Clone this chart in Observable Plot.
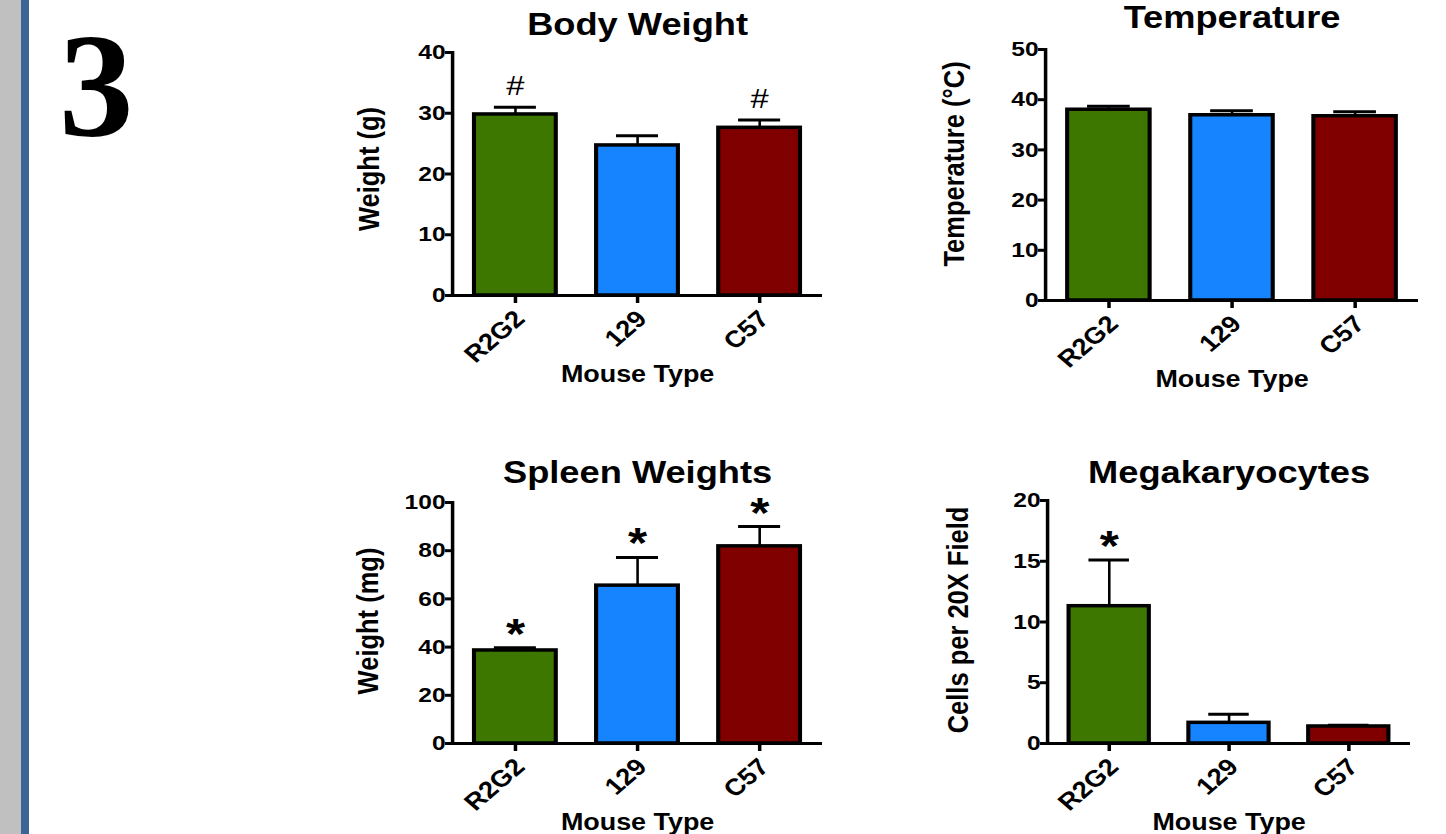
<!DOCTYPE html>
<html>
<head>
<meta charset="utf-8">
<script src="https://cdn.jsdelivr.net/npm/d3@7"></script>
<script src="https://cdn.jsdelivr.net/npm/@observablehq/plot@0.6"></script>
<style>
  html, body { margin: 0; padding: 0; background: #ffffff; }
  body { width: 1446px; height: 834px; position: relative; overflow: hidden; }
  #strip-gray { position: absolute; left: 0; top: 0; width: 21px; height: 834px; background: #c0c0c0; }
  #strip-blue { position: absolute; left: 21px; top: 0; width: 8px; height: 834px; background: #3a6596; }
  #fig-num { position: absolute; left: 59px; top: 0px; font-family: "Liberation Serif", "Times New Roman", serif; font-weight: bold; font-size: 149px; line-height: normal; color: #000; }
  .panel { position: absolute; }
  .panel svg { transform-origin: 0 0; display: block; }
</style>
</head>
<body>
<div id="strip-gray"></div>
<div id="strip-blue"></div>
<div id="fig-num">3</div>
<div class="panel" id="p1"></div>
<div class="panel" id="p2"></div>
<div class="panel" id="p3"></div>
<div class="panel" id="p4"></div>
<script>
// ---- data ----
const mouseTypes = ["R2G2", "129", "C57"];
const barColors = ["#3d7700", "#1784ff", "#800000"];
const xAxisLabel = "Mouse Type";

const bodyWeight = [29.8, 24.7, 27.6];
const bodyWeightErrTop = [31.0, 26.3, 28.9];
const bodyWeightMarks = ["#", "", "#"];
const bodyWeightTicks = [0, 10, 20, 30, 40];

const temperature = [38.0, 36.9, 36.7];
const temperatureErrTop = [38.7, 37.8, 37.6];
const temperatureMarks = ["", "", ""];
const temperatureTicks = [0, 10, 20, 30, 40, 50];

const spleenWeight = [38.6, 65.5, 81.8];
const spleenWeightErrTop = [39.7, 77.2, 90.0];
const spleenWeightMarks = ["*", "*", "*"];
const spleenWeightTicks = [0, 20, 40, 60, 80, 100];

const megakaryocytes = [11.3, 1.7, 1.4];
const megakaryocytesErrTop = [15.1, 2.4, 1.5];
const megakaryocytesMarks = ["*", "", ""];
const megakaryocytesTicks = [0, 5, 10, 15, 20];

// ---- rendering ----
const S = 1.17; // horizontal stretch of the reference figure
const FONT = "'Liberation Sans', Arial, Helvetica, sans-serif";

function makePanel(id, cfg) {
  const rows = mouseTypes.map((t, i) => ({type: t, value: cfg.values[i], err: cfg.errs[i], mark: cfg.marks[i]}));
  const el = document.getElementById(id);
  el.style.left = cfg.left + "px";
  el.style.top = cfg.top + "px";
  const ml = (cfg.frameL - cfg.left) / S;
  const mr = 14 / S;
  const width = (cfg.frameR + 14 - cfg.left) / S;
  const mt = cfg.frameT - cfg.top;
  const mb = cfg.bottom - cfg.frameB;
  const height = cfg.bottom - cfg.top;
  const ticks = cfg.ticks;
  const svg = Plot.plot({
    width, height,
    marginLeft: ml, marginRight: mr, marginTop: mt, marginBottom: mb,
    style: {fontFamily: FONT, color: "#000", background: "transparent", overflow: "visible", maxWidth: "none"},
    x: {type: "band", domain: mouseTypes, paddingInner: 0.33, paddingOuter: 0.18, round: false},
    y: {domain: [0, ticks[ticks.length - 1]]},
    color: {domain: mouseTypes, range: barColors},
    marks: [
      Plot.ruleX(rows, {x: "type", y1: "value", y2: "err", stroke: "#000", strokeWidth: 2.2}),
      Plot.tickY(rows, {x: "type", y: "err", stroke: "#000", strokeWidth: 3, insetLeft: 17, insetRight: 17}),
      Plot.barY(rows, {x: "type", y: "value", fill: "type", stroke: "#000", strokeWidth: 3.5}),
      Plot.ruleY([0], {stroke: "#000", strokeWidth: 3}),
      Plot.frame({anchor: "left", stroke: "#000", strokeWidth: 3}),
      Plot.axisY({ticks, tickSize: 6, tickPadding: 0, fontSize: 21, fontWeight: "bold", stroke: "#000", strokeWidth: 3, label: null}),
      Plot.axisX({tickSize: 8, tickFormat: () => "", stroke: "#000", strokeWidth: 3, label: null}),
      Plot.text(mouseTypes, {x: (d) => d, frameAnchor: "bottom", rotate: -45, textAnchor: "end", lineAnchor: "top", dx: -3 / S, dy: 13, fontSize: 23.5, fontWeight: "bold", fill: "#000"}),
      Plot.text(rows.filter((d) => d.mark === "#"), {x: "type", y: "err", text: "mark", textAnchor: "middle", lineAnchor: "bottom", dy: -12, fontSize: 28, fill: "#000"}),
      Plot.text(rows.filter((d) => d.mark === "*"), {x: "type", y: "err", text: "mark", textAnchor: "middle", lineAnchor: "bottom", dy: 0, fontSize: 42, fontWeight: "bold", fill: "#000"}),
      Plot.text([cfg.title], {frameAnchor: "top", textAnchor: "middle", lineAnchor: "bottom", dy: cfg.titleDy, fontSize: 31, fontWeight: "bold", fill: "#000"}),
      Plot.text([xAxisLabel], {frameAnchor: "bottom", textAnchor: "middle", lineAnchor: "bottom", dy: 87, fontSize: 23, fontWeight: "bold", fill: "#000"}),
      Plot.text([cfg.ylabel], {frameAnchor: "left", rotate: -90, textAnchor: "middle", lineAnchor: "bottom", dx: -cfg.ylOff / S, dy: cfg.ylDy, fontSize: 25.5, fontWeight: "bold", fill: "#000"})
    ]
  });
  svg.style.transform = `scaleX(${S})`;
  el.appendChild(svg);
}

makePanel("p1", {left: 330, top: 0, frameL: 452, frameR: 822, frameT: 52, frameB: 295, bottom: 400,
  title: "Body Weight", titleDy: -17, ylabel: "Weight (g)", ylOff: 74, ylDy: -5,
  values: bodyWeight, errs: bodyWeightErrTop, marks: bodyWeightMarks, ticks: bodyWeightTicks});
makePanel("p2", {left: 925, top: 0, frameL: 1045, frameR: 1418, frameT: 49, frameB: 300, bottom: 400,
  title: "Temperature", titleDy: -21, ylabel: "Temperature (°C)", ylOff: 82, ylDy: -11,
  values: temperature, errs: temperatureErrTop, marks: temperatureMarks, ticks: temperatureTicks});
makePanel("p3", {left: 330, top: 440, frameL: 452, frameR: 822, frameT: 502, frameB: 743, bottom: 834,
  title: "Spleen Weights", titleDy: -19, ylabel: "Weight (mg)", ylOff: 75, ylDy: -2,
  values: spleenWeight, errs: spleenWeightErrTop, marks: spleenWeightMarks, ticks: spleenWeightTicks});
makePanel("p4", {left: 925, top: 440, frameL: 1047, frameR: 1410, frameT: 500, frameB: 743, bottom: 834,
  title: "Megakaryocytes", titleDy: -17, ylabel: "Cells per 20X Field", ylOff: 80, ylDy: -2,
  values: megakaryocytes, errs: megakaryocytesErrTop, marks: megakaryocytesMarks, ticks: megakaryocytesTicks});
</script>
</body>
</html>
